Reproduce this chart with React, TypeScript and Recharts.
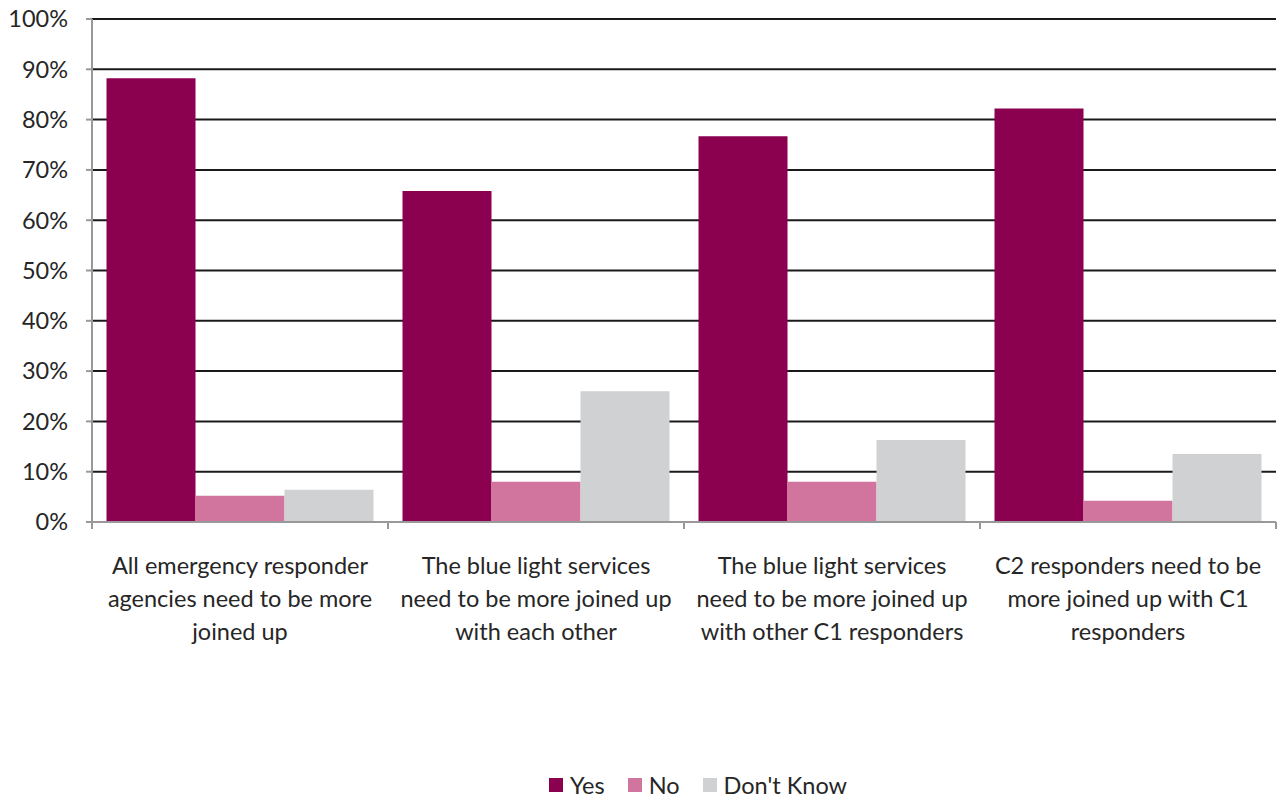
import React from "react";
import { BarChart, Bar, XAxis, YAxis, CartesianGrid } from "recharts";

const categories = [
  ["All emergency responder", "agencies need to be more", "joined up"],
  ["The blue light services", "need to be more joined up", "with each other"],
  ["The blue light services", "need to be more joined up", "with other C1 responders"],
  ["C2 responders need to be", "more joined up with C1", "responders"],
];
const yes = [0.882, 0.658, 0.767, 0.822];
const no = [0.052, 0.08, 0.08, 0.042];
const dontKnow = [0.064, 0.26, 0.163, 0.135];
const yTicks = [0, 0.1, 0.2, 0.3, 0.4, 0.5, 0.6, 0.7, 0.8, 0.9, 1];

const series = [
  { key: "yes", name: "Yes", color: "#8B004F" },
  { key: "no", name: "No", color: "#D1759F" },
  { key: "dk", name: "Don't Know", color: "#D0D1D3" },
];

const data = categories.map((lines, i) => ({
  name: lines.join(" "),
  lines,
  yes: yes[i],
  no: no[i],
  dk: dontKnow[i],
}));

const W = 1280;
const H = 802;
const M = { top: 19, right: 4, left: 0, bottom: 0 };
const Y_W = 92;
const PLOT_W = W - M.left - M.right - Y_W;
const BAND = PLOT_W / categories.length;
const FONT = "Lato, 'Open Sans', sans-serif";
const TEXT = "#262626";

const CatTick = (props: any) => {
  const { x, y, index } = props;
  const lines: string[] = data[index]?.lines ?? [];
  return (
    <g>
      <line x1={x - BAND / 2} x2={x - BAND / 2} y1={y - 8} y2={y - 1} stroke="#999" strokeWidth={2} />
      {index === categories.length - 1 && (
        <line x1={x + BAND / 2} x2={x + BAND / 2} y1={y - 8} y2={y - 1} stroke="#999" strokeWidth={2} />
      )}
      <text x={x} y={y + 44} textAnchor="middle" fill={TEXT} fontSize={23.5} fontFamily={FONT}>
        {lines.map((l, i) => (
          <tspan key={i} x={x} dy={i === 0 ? 0 : 33}>
            {l}
          </tspan>
        ))}
      </text>
    </g>
  );
};

const LegendRow = () => (
  <div
    style={{
      position: "absolute",
      top: 771,
      left: Y_W + 14,
      width: PLOT_W,
      display: "flex",
      justifyContent: "center",
      gap: 23,
      fontFamily: FONT,
      fontSize: 23.5,
      color: TEXT,
    }}
  >
    {series.map((s) => (
      <div key={s.key} style={{ display: "flex", alignItems: "center" }}>
        <span style={{ width: 14, height: 14, background: s.color, display: "inline-block", marginRight: 7 }} />
        <span>{s.name}</span>
      </div>
    ))}
  </div>
);

export default function App() {
  return (
    <div style={{ position: "absolute", left: 0, top: 0, width: W, height: H, background: "#fff" }}>
      <BarChart width={W} height={H} data={data} margin={M} barGap={0} barCategoryGap="4.9%">
        <CartesianGrid vertical={false} stroke="#1a1a1a" strokeWidth={2} />
        <XAxis
          dataKey="name"
          interval={0}
          tick={<CatTick />}
          tickLine={false}
          axisLine={{ stroke: "#999", strokeWidth: 2 }}
          height={280}
        />
        <YAxis
          width={Y_W}
          domain={[0, 1]}
          ticks={yTicks}
          interval={0}
          tickFormatter={(v: number) => `${Math.round(v * 100)}%`}
          axisLine={{ stroke: "#999", strokeWidth: 2 }}
          tickLine={{ stroke: "#999", strokeWidth: 2 }}
          tickSize={6}
          tickMargin={18}
          tick={{ fill: TEXT, fontSize: 23.5, fontFamily: FONT }}
        />
        {series.map((s) => (
          <Bar key={s.key} dataKey={s.key} name={s.name} fill={s.color} isAnimationActive={false} />
        ))}
      </BarChart>
      <LegendRow />
    </div>
  );
}
